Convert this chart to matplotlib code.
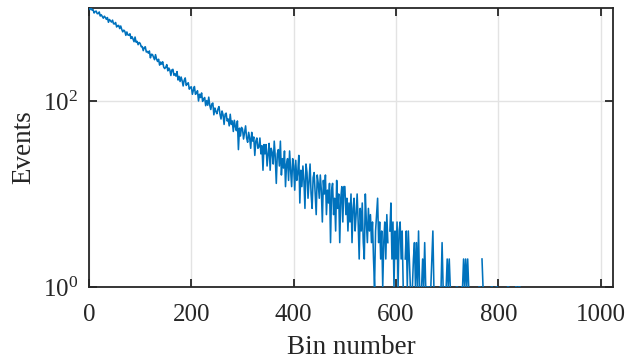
import numpy as np
import matplotlib
matplotlib.use('Agg')
import matplotlib.pyplot as plt
from matplotlib.ticker import FixedLocator, NullLocator, LogFormatterSciNotation

# Fonts - serif look like the MATLAB export
plt.rcParams['font.family'] = ['Liberation Serif', 'DejaVu Serif']
plt.rcParams['mathtext.fontset'] = 'custom'
plt.rcParams['mathtext.rm'] = 'Liberation Serif'
plt.rcParams['mathtext.it'] = 'Liberation Serif:italic'

# Histogram counts, one value every 2 bins
counts = [
    1010, 960, 1007, 949, 958, 884, 916, 926, 870, 869, 906, 820, 845, 812, 777, 816, 790, 755, 789, 702, 752, 727, 705, 740, 676,
    674, 698, 625, 647, 649, 601, 640, 588, 554, 578, 561, 508, 552, 513, 509, 528, 470, 491, 464, 434, 487, 429, 438, 403, 426,
    416, 384, 385, 348, 375, 383, 336, 341, 327, 345, 291, 318, 316, 296, 278, 315, 282, 266, 281, 243, 262, 249, 264, 231, 223,
    231, 246, 211, 226, 215, 188, 216, 219, 189, 196, 185, 207, 168, 184, 162, 181, 165, 145, 167, 177, 147, 153, 157, 134, 140,
    142, 118, 131, 143, 118, 121, 129, 100, 118, 109, 122, 99, 105, 109, 89, 101, 90, 110, 90, 81, 93, 95, 71, 84, 77,
    73, 82, 87, 72, 64, 78, 71, 56, 72, 74, 61, 64, 54, 72, 56, 61, 47, 62, 53, 48, 61, 30, 51, 42, 52,
    50, 39, 46, 54, 40, 36, 46, 40, 31, 46, 37, 41, 26, 37, 40, 31, 32, 40, 27, 33, 18, 34, 27, 34, 20,
    27, 35, 18, 31, 28, 21, 37, 25, 13, 27, 30, 20, 37, 16, 24, 19, 29, 12, 21, 24, 14, 29, 18, 12, 24,
    20, 11, 23, 14, 17, 26, 8, 18, 12, 20, 14, 7, 21, 17, 9, 14, 21, 10, 7, 15, 17, 10, 6, 16, 13,
    9, 16, 11, 5, 14, 10, 16, 6, 11, 8, 13, 3, 11, 13, 6, 9, 4, 14, 7, 10, 3, 9, 12, 5, 12,
    12, 6, 9, 4, 8, 5, 10, 3, 7, 9, 4, 6, 10, 5, 2, 7, 4, 8, 3, 2, 10, 5, 3, 7, 4,
    6, 3, 5, 2, 1, 4, 6, 9, 3, 5, 2, 4, 1, 3, 5, 2, 6, 3, 0, 4, 8, 2, 5, 1, 4,
    2, 5, 1, 4, 5, 2, 4, 1, 0, 2, 4, 1, 4, 2, 1, 0, 1, 2, 3, 1, 3, 1, 4, 1, 0,
    1, 2, 1, 3, 1, 0, 1, 1, 0, 1, 2, 4, 1, 0, 0, 2, 0, 0, 1, 1, 3, 1, 0, 1, 1,
    2, 1, 2, 1, 0, 0, 1, 0, 0, 1, 1, 0, 0, 0, 1, 1, 2, 1, 2, 1, 2, 1, 0, 0, 0,
    0, 1, 0, 0, 0, 0, 1, 1, 0, 2, 1, 0, 0, 0, 0, 0, 0, 0, 1, 1, 0, 0, 0, 1, 1,
    0, 0, 0, 0, 0, 0, 0, 0, 0, 1, 1, 0, 0, 0, 0, 0, 0, 1, 1, 0, 1, 1, 0, 0,
]
bin_step = 2
x_ticks = [0, 200, 400, 600, 800, 1000]
y_ticks = [1, 100]

bins = np.arange(len(counts)) * bin_step
y = np.array(counts, dtype=float)
y[y <= 0] = np.nan  # empty bins are not drawn on a log axis

fig = plt.figure(figsize=(6.25, 3.63), dpi=100)
ax = fig.add_axes([0.1424, 0.2094, 0.8384, 0.7686])

ax.plot(bins, y, color='#0072BD', lw=1.15, zorder=3)
ax.set_yscale('log')
ax.set_xlim(0, 1024)
ax.set_ylim(1, 1000)

ax.xaxis.set_major_locator(FixedLocator(x_ticks))
ax.yaxis.set_major_locator(FixedLocator(y_ticks))
ax.yaxis.set_major_formatter(LogFormatterSciNotation())
ax.yaxis.set_minor_locator(NullLocator())

ax.grid(True, color='#e3e3e3', lw=1.0, zorder=0)
ax.set_axisbelow(True)

for s in ax.spines.values():
    s.set_color('#262626')
    s.set_linewidth(1.3)
ax.tick_params(direction='in', top=True, right=True, length=5.5, width=1.3,
               color='#262626', labelcolor='#262626', labelsize=18, pad=8)
ax.tick_params(axis='x', pad=12)

ax.set_xlabel('Bin number', fontsize=19.5, color='#262626')
ax.set_ylabel('Events', fontsize=19.5, color='#262626')
ax.xaxis.set_label_coords(0.5, -0.172)
ax.yaxis.set_label_coords(-0.10, 0.5)

fig.savefig('out.png', dpi=100)
